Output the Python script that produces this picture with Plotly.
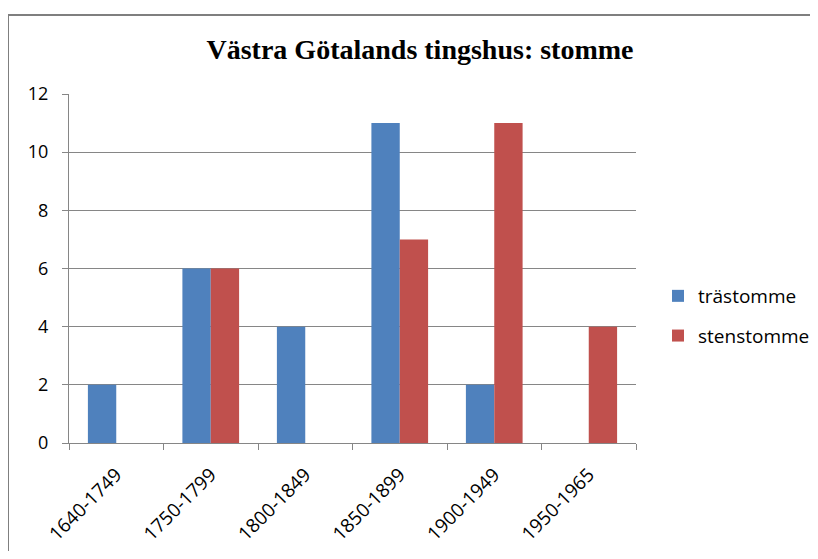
import plotly.graph_objects as go

categories = ["1640-1749", "1750-1799", "1800-1849", "1850-1899", "1900-1949", "1950-1965"]
trastomme = [2, 6, 4, 11, 2, 0]
stenstomme = [0, 6, 0, 7, 11, 4]
series_names = ["trästomme", "stenstomme"]
colors = ["#4F81BD", "#C0504D"]

fig = go.Figure()
for i, (name, vals) in enumerate(zip(series_names, [trastomme, stenstomme])):
    fig.add_trace(go.Bar(x=categories, y=vals, name=name, marker=dict(color=colors[i], line=dict(width=0)),
                         legendgroup=f"g{i}"))

OFF = 8  # page body margin
W, H = 818 - 2 * OFF, 559 - 2 * OFF
L, R, T, B = 69 - OFF, (818 - OFF) - 636, 94 - OFF, (559 - OFF) - 443
pw, ph = W - L - R, H - T - B

def px_x(p):
    return (p - OFF - L) / pw

def px_y(p):
    return (H - B - (p - OFF)) / ph

border = dict(color="#7F7F7F", width=2)

fig.update_layout(
    width=W, height=H,
    margin=dict(l=L, r=R, t=T, b=B, autoexpand=False),
    paper_bgcolor="white", plot_bgcolor="white",
    barmode="group", bargap=0.4, bargroupgap=0,
    title=dict(text="<b>Västra Götalands tingshus: stomme</b>",
               font=dict(family="Liberation Serif", size=28, color="black"),
               x=(420 - OFF) / W, xanchor="center", y=1 - (49 - OFF) / H, yanchor="middle"),
    font=dict(family="Open Sans", color="black"),
    legend=dict(x=px_x(658), xanchor="left", y=px_y(316), yanchor="middle",
                font=dict(family="Open Sans", size=19, color="black"),
                traceorder="grouped", tracegroupgap=12, bgcolor="rgba(0,0,0,0)"),
    xaxis=dict(type="category", tickangle=-45, tickson="boundaries", ticks="outside", ticklen=6,
               tickcolor="#868686", showline=True, linecolor="#868686", linewidth=1,
               showgrid=False, ticklabelstandoff=12,
               tickfont=dict(family="Open Sans", size=19, color="black")),
    yaxis=dict(range=[0, 12], dtick=2, ticks="outside", ticklen=6, tickcolor="#868686",
               showline=True, linecolor="#868686", linewidth=1, showgrid=True,
               gridcolor="#868686", gridwidth=1, zeroline=False, ticklabelstandoff=10,
               tickfont=dict(family="Open Sans", size=18, color="black")),
    shapes=[
        dict(type="line", xref="paper", yref="paper", x0=px_x(8), x1=px_x(8),
             y0=px_y(580), y1=px_y(15), line=border, layer="below"),
        dict(type="line", xref="paper", yref="paper", x0=px_x(7), x1=px_x(840),
             y0=px_y(15), y1=px_y(15), line=border, layer="below"),
    ],
)

fig.write_html("out.html", config={"displayModeBar": False})
